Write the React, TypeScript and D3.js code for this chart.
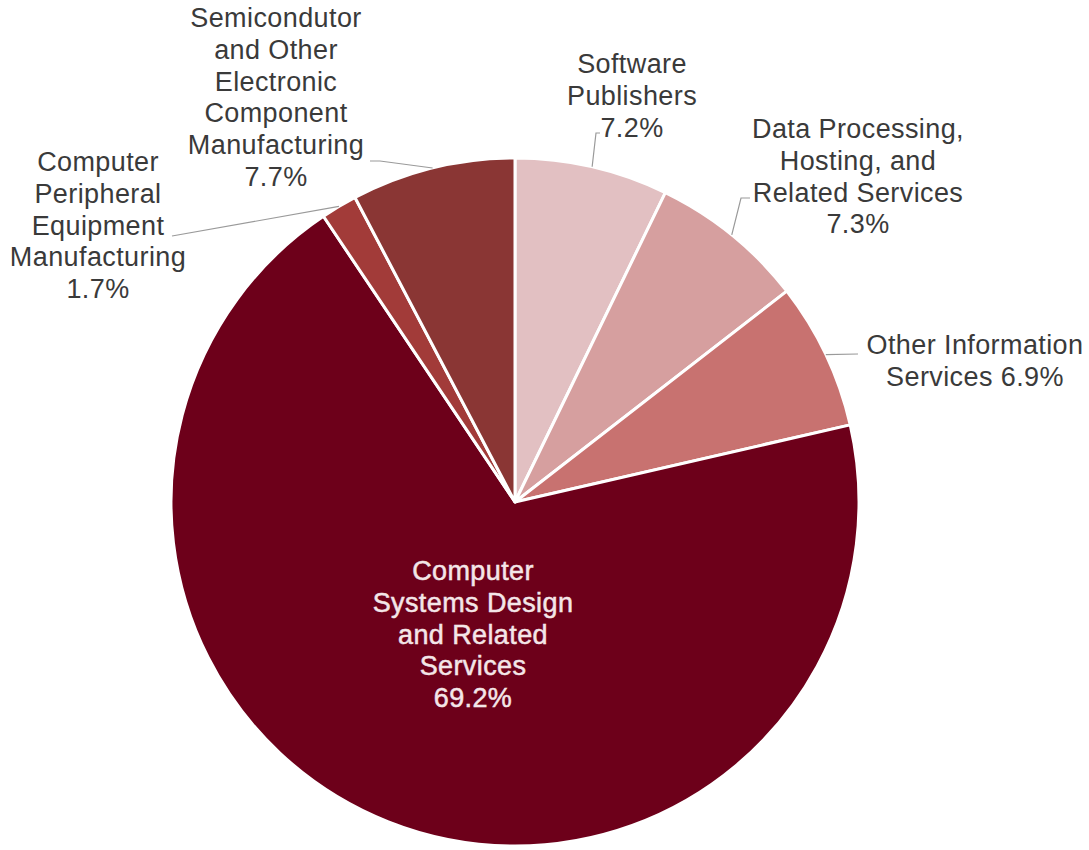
import React from "react";
import * as d3 from "d3";

const categories = [
  "Software Publishers",
  "Data Processing, Hosting, and Related Services",
  "Other Information Services",
  "Computer Systems Design and Related Services",
  "Computer Peripheral Equipment Manufacturing",
  "Semicondutor and Other Electronic Component Manufacturing",
];
const shares = [7.2, 7.3, 6.9, 69.2, 1.7, 7.7];
const labelLines = [
  ["Software", "Publishers", "7.2%"],
  ["Data Processing,", "Hosting, and", "Related Services", "7.3%"],
  ["Other Information", "Services 6.9%"],
  ["Computer", "Systems Design", "and Related", "Services", "69.2%"],
  ["Computer", "Peripheral", "Equipment", "Manufacturing", "1.7%"],
  ["Semicondutor", "and Other", "Electronic", "Component", "Manufacturing", "7.7%"],
];
const colors = ["#e2c0c2", "#d69f9f", "#c87270", "#6d001a", "#a23b39", "#8a3634"];

// layout
const W = 1089;
const H = 850;
const CX = 515;
const CY = 502;
const R = 344;
const LINE_H = 31.8;
// label block: center x, first line center y
const labelPos = [
  { x: 632, y: 64 },
  { x: 858, y: 129 },
  { x: 975, y: 345 },
  { x: 473, y: 571 },
  { x: 98, y: 162 },
  { x: 276, y: 18 },
];
// leader line extra points (after the arc point), null = no leader
const leaders: ([number, number][] | null)[] = [
  [[596, 133], [600, 133]],
  [[741, 198], [750, 198]],
  [[858, 354]],
  null,
  [[172, 236]],
  [[380, 161], [370, 161]],
];

export default function App() {
  const pie = d3
    .pie<number>()
    .sort(null)
    .value((d) => d)
    .startAngle(0)
    .endAngle(2 * Math.PI);
  const arcs = pie(shares);
  const arc = d3.arc<d3.PieArcDatum<number>>().innerRadius(0).outerRadius(R);

  const edgePoint = (a: d3.PieArcDatum<number>): [number, number] => {
    const m = (a.startAngle + a.endAngle) / 2;
    return [CX + R * Math.sin(m), CY - R * Math.cos(m)];
  };
  const line = d3.line();

  return (
    <svg
      width={W}
      height={H}
      style={{ position: "absolute", left: 0, top: 0, background: "#fff" }}
      fontFamily="'Liberation Sans', Arial, sans-serif"
    >
      <g transform={`translate(${CX},${CY})`}>
        {arcs.map((a, i) => (
          <path
            key={categories[i]}
            d={arc(a) || ""}
            fill={colors[i]}
            stroke="#ffffff"
            strokeWidth={3}
            strokeLinejoin="round"
          />
        ))}
      </g>
      {arcs.map((a, i) => {
        const pts = leaders[i];
        if (!pts) return null;
        const all: [number, number][] = [edgePoint(a), ...pts];
        return (
          <path
            key={"l" + i}
            d={line(all) || ""}
            fill="none"
            stroke="#9a9a9a"
            strokeWidth={1.2}
          />
        );
      })}
      {labelLines.map((lines, i) => (
        <text
          key={"t" + i}
          textAnchor="middle"
          fontSize={27}
          letterSpacing={0.4}
          fill={i === 3 ? "#f4e6e8" : "#3a3a3a"}
          stroke={i === 3 ? "#f4e6e8" : "none"}
          strokeWidth={i === 3 ? 0.5 : 0}
        >
          {lines.map((s, j) => (
            <tspan key={j} x={labelPos[i].x} y={labelPos[i].y + j * LINE_H + 9}>
              {s}
            </tspan>
          ))}
        </text>
      ))}
    </svg>
  );
}
